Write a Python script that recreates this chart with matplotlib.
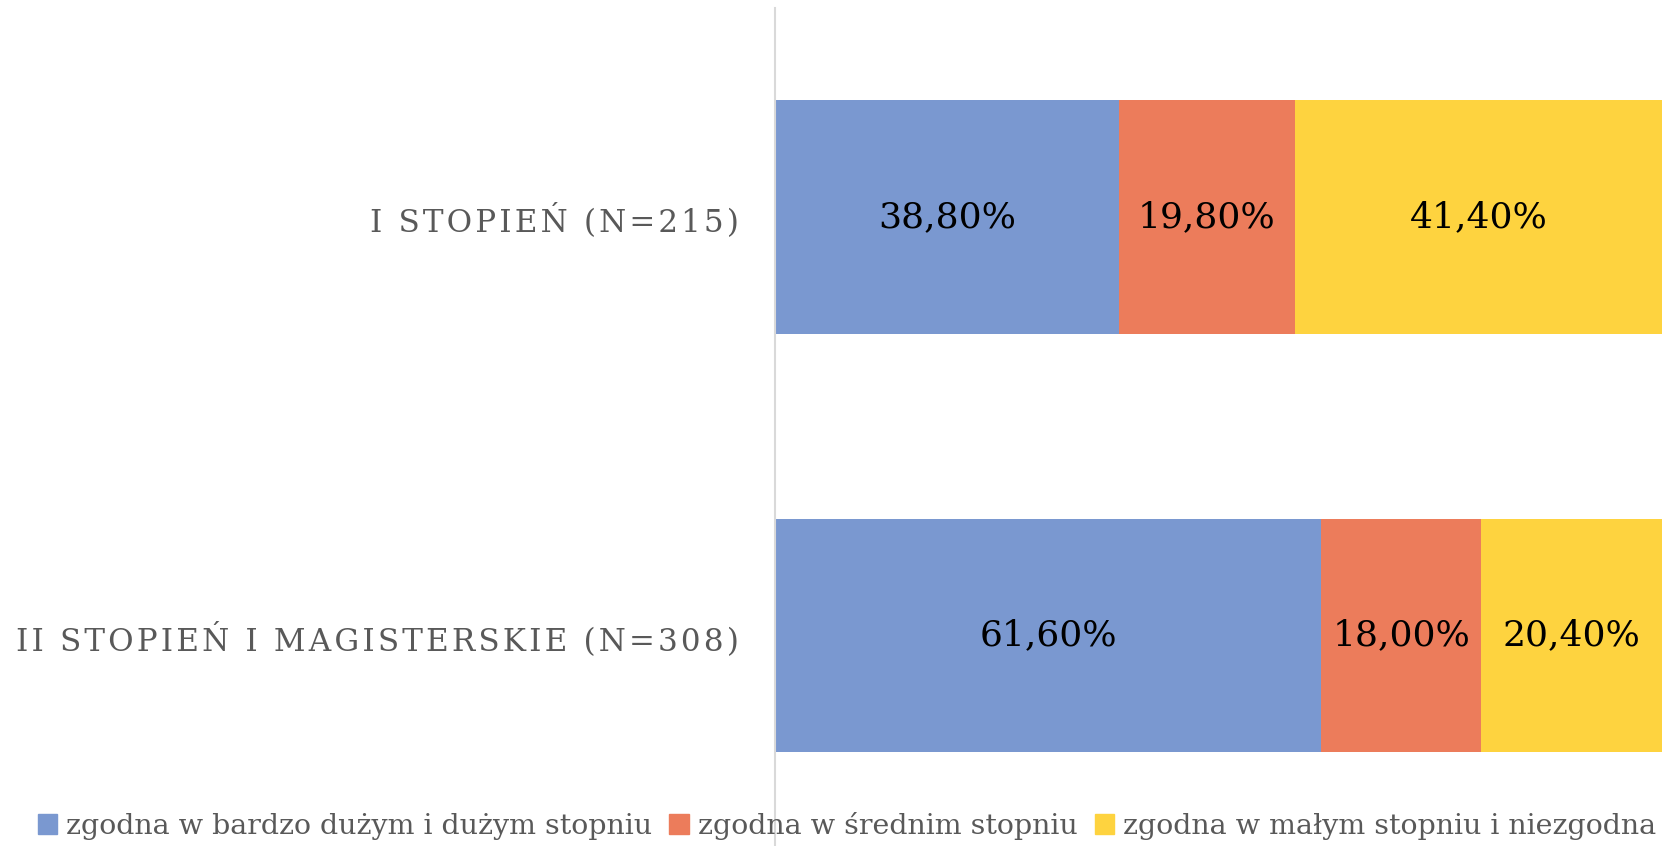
import numpy as np
import matplotlib.pyplot as plt
from matplotlib.patches import Patch

categories = ['II STOPIEŃ I MAGISTERSKIE (N=308)', 'I STOPIEŃ (N=215)']
series_names = ['zgodna w bardzo dużym i dużym stopniu',
                'zgodna w średnim stopniu',
                'zgodna w małym stopniu i niezgodna']
values = [
    [61.6, 38.8],   # bardzo duży i duży
    [18.0, 19.8],   # średni
    [20.4, 41.4],   # mały i niezgodna
]
colors = ['#7A98D0', '#EC7C5B', '#FED33F']

plt.rcParams['font.family'] = ['DejaVu Serif']

fig = plt.figure(figsize=(16.67, 8.46), dpi=100)
ax = fig.add_axes([775 / 1667, 1 / 846, 887 / 1667, 837.5 / 846])

y = np.arange(len(categories))
left = np.zeros(len(categories))
for vals, color, name in zip(values, colors, series_names):
    vals = np.array(vals)
    ax.barh(y, vals / 100, left=left, height=0.558, color=color, label=name)
    for yi, l, v in zip(y, left, vals):
        ax.text(l + v / 200, yi, f'{v:.2f}%'.replace('.', ','),
                ha='center', va='center', fontsize=26, color='black')
    left += vals / 100

ax.set_xlim(0, 1)
ax.set_ylim(-0.5, 1.5)
ax.set_xticks([])
ax.set_yticks(y)
spaced = ['\u200a'.join(c) for c in categories]
ax.set_yticklabels(spaced, fontsize=22.3, color='#595959')
ax.tick_params(axis='y', length=0, pad=26)
for s in ['top', 'right', 'bottom']:
    ax.spines[s].set_visible(False)
ax.spines['left'].set_color('#D9D9D9')
ax.spines['left'].set_linewidth(1.5)

handles = [Patch(color=c, label=n) for c, n in zip(colors, series_names)]
fig.legend(handles=handles, loc='center', bbox_to_anchor=(0.508, 0.024),
           ncol=3, frameon=False, fontsize=20.5, labelcolor='#595959',
           handlelength=0.7, handleheight=0.7, handletextpad=0.3,
           columnspacing=0.6)

fig.savefig('out.png', dpi=100)
